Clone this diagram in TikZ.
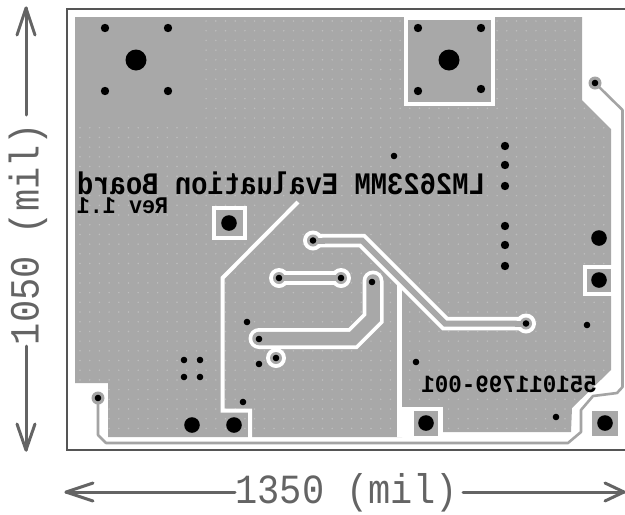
\documentclass[tikz,border=0pt]{standalone}
\usepackage{fontspec}
\setmonofont{Liberation Mono}
\definecolor{copper}{HTML}{A8A8A8}
\definecolor{dotc}{HTML}{BEBEBE}
\definecolor{dimc}{HTML}{646464}
\definecolor{framec}{HTML}{555555}
\definecolor{tracec}{HTML}{A4A4A4}
\tikzset{
  bigh/.style={fill=black,radius=10.5},
  midh/.style={fill=black,radius=7.8},
  smallh/.style={fill=black,radius=4.2},
  tinyh/.style={fill=black,radius=3.3},
  whiteline/.style={draw=white,line width=4,line join=miter},
  ringout/.style={fill=white,radius=10},
  ringin/.style={fill=copper,radius=6},
  dimline/.style={draw=dimc,line width=3,line cap=round,line join=round},
  dimtext/.style={text=dimc,inner sep=0,font=\ttfamily\fontsize{37}{37}\selectfont},
  mirror/.style={xscale=-1,transform shape,inner sep=0,text=black,font=\ttfamily\bfseries},
  padbox/.style={fill=copper,draw=white,line width=4},
}
\begin{document}
\begin{tikzpicture}[x=1pt,y=-1pt]
\useasboundingbox (0,0) rectangle (625,515);
\fill[white] (0,0) rectangle (625,515);
% board outline
\draw[framec,line width=2.8] (625,9) -- (67,9) -- (67,450) -- (625,450);
% copper pour
\fill[copper] (75,17) -- (582,17) -- (582,100) -- (611,129) -- (611,370) -- (572,408) -- (571,432)
  -- (443,432) -- (443,407) -- (402,407) -- (402,437) -- (108,437) -- (108,383) -- (75,383) -- cycle;
% thermal dot grid
\begin{scope}
\clip (75,17) -- (582,17) -- (582,100) -- (611,129) -- (611,370) -- (572,408) -- (571,432)
  -- (443,432) -- (443,407) -- (402,407) -- (402,437) -- (108,437) -- (108,383) -- (75,383) -- cycle;
\foreach \i in {0,...,55}{\foreach \j in {0,...,43}{
  \fill[dotc] ({80+9.7*\i},{21+9.7*\j}) circle[radius=0.85];
}}
\end{scope}
\fill[copper] (75,17) rectangle (203,125);
% white voids
\fill[white] (397,437) -- (397,407) -- (443,407) -- (443,437) -- cycle;
\draw[whiteline,line width=5] (399.5,285) -- (399.5,437);
\draw[whiteline] (298,202) -- (222.5,278) -- (222.5,410.5) -- (250,410.5) -- (250,438);
\draw[white,line width=1.5] (75,16.5) -- (182,16.5);
% perimeter trace
\draw[tracec,line width=2.6,line join=round] (98,398) -- (98,435) -- (106,443) -- (568,443) -- (581,432) -- (581,410) -- (593,396) -- (617,393) -- (622.5,387) -- (622.5,110) -- (595,83);
\fill[tracec] (98,398) circle[radius=6.5];
\fill[tracec] (595,83) circle[radius=6.5];
\fill[tinyh] (98,398) circle;
\fill[tinyh] (595,83) circle;
% pads
\draw[padbox] (405.5,18) rectangle (493,103.5);
\draw[padbox] (214,207.5) rectangle (244.5,237.5);
\draw[padbox] (585,266.5) rectangle (612.5,294);
\fill[copper] (414,411) rectangle (438,436);
\fill[copper] (592,411) rectangle (618,436);
% signal traces
\draw[white,line width=13.5,line join=miter] (313,240.5) -- (362,240.5) -- (445,323.5) -- (526,323.5);
\draw[copper,line width=6,line join=miter] (313,240.5) -- (362,240.5) -- (445,323.5) -- (526,323.5);
\draw[white,line width=13.5] (279,278) -- (341,278);
\draw[copper,line width=6] (279,278) -- (341,278);
\draw[white,line width=21,line cap=round,line join=miter] (259,338.5) -- (353,338.5) -- (373,318.5) -- (373,281);
\draw[copper,line width=13.5,line cap=round,line join=miter] (259,338.5) -- (353,338.5) -- (373,318.5) -- (373,281);
\foreach \p in {(313,240.5),(526,323.5),(279,278),(341,278),(276,358)}{
  \fill[ringout] \p circle;
  \fill[ringin] \p circle;
}
% trace centres through the rings
\draw[copper,line width=6] (313,240.5) -- (325,240.5);
\draw[copper,line width=6] (515,323.5) -- (526,323.5);
\draw[copper,line width=6] (279,278) -- (341,278);
% large holes
\fill[bigh] (136,60) circle;
\fill[bigh] (449,60) circle;
\foreach \p in {(229,223),(599,238),(599,280),(192,425),(234,425),(426,423),(605,423)}{\fill[midh] \p circle;}
% small holes
\foreach \p in {(105,28),(168,28),(105,91),(168,91),(418,28),(481,28),(418,91),(481,89),
  (505,146),(505,165),(505,186),(505,226),(505,245),(505,266)}{\fill[smallh] \p circle;}
\foreach \p in {(394,156),(184,360),(200,360),(184,377),(200,377),(247,322),(259,364),(243,402),
  (587,325),(416,362),(556,417),(313,240.5),(526,323.5),(279,278),(341,278),(276,358),(372,282),(259,339)}{\fill[tinyh] \p circle;}
% mirrored silk text
\node[mirror,anchor=center,yscale=1.15] (title) at (281,183.5) {\fontsize{27.2}{27.2}\selectfont LM2623MM Evaluation Board};
\node[mirror,anchor=center,yscale=1.1] (rev) at (122.5,205.5) {\fontsize{21.7}{21.7}\selectfont Rev 1.1};
\node[mirror,anchor=center,yscale=1.1] (part) at (509,384) {\fontsize{22.5}{22.5}\selectfont 551011799-001};
% dimensions
\node[dimtext,rotate=90,yscale=1.12,transform shape] (hdim) at (28,234) {1050 (mil)};
\node[dimtext,yscale=1.12,transform shape] (wdim) at (346.5,492.5) {1350 (mil)};
\draw[dimline] (26,115) -- (26,8);
\draw[dimline] (17,35) -- (26,8) -- (35,35);
\draw[dimline] (26,346) -- (26,450);
\draw[dimline] (17,424) -- (26,450) -- (35,424);
\draw[dimline] (235,492) -- (66,492);
\draw[dimline] (93,483) -- (66,492) -- (93,501);
\draw[dimline] (463,492) -- (624,492);
\draw[dimline] (605,483) -- (624,492) -- (605,501);
\end{tikzpicture}
\end{document}
